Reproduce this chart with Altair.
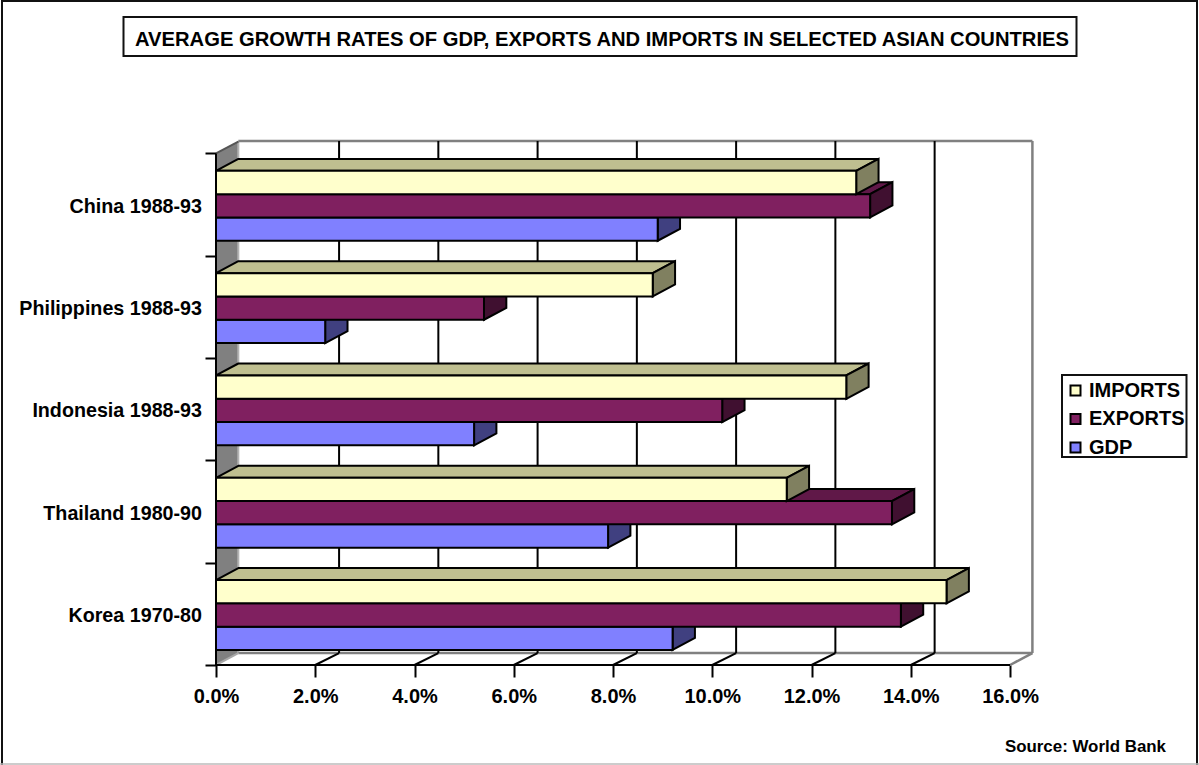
import altair as alt
import pandas as pd

# Growth rates in percent, one list per series, ordered bottom category first
categories = ["Korea 1970-80", "Thailand 1980-90", "Indonesia 1988-93", "Philippines 1988-93", "China 1988-93"]
gdp = [9.2, 7.9, 5.2, 2.2, 8.9]
exports = [13.8, 13.62, 10.2, 5.4, 13.18]
imports = [14.72, 11.5, 12.7, 8.8, 12.9]
x_ticks = [0, 2, 4, 6, 8, 10, 12, 14, 16]

FONT = "Liberation Sans"
# Oblique depth of the box, in axis units
DX, DY = 0.45, 0.117
GRID_DX = 0.48
BAR, GAP = 0.2277, 0.147
XMAX, YMAX = 16.45, 5.122

series = [
    ("GDP", gdp, "#8080FF", "#6060BF", "#404080"),
    ("EXPORTS", exports, "#802060", "#601848", "#401030"),
    ("IMPORTS", imports, "#FFFFCC", "#BFBF90", "#808060"),
]
base = pd.DataFrame({"a": [0]})

xs = alt.Scale(domain=[0, XMAX], nice=False, zero=False)
ys = alt.Scale(domain=[0, YMAX], nice=False, zero=False)
x_axis = alt.Axis(
    values=x_ticks, labelExpr="format(datum.value, '.1f') + '%'", domain=False, grid=False, title=None,
    tickColor="black", tickWidth=2, tickSize=12, labelFont=FONT, labelFontSize=20, labelFontWeight="bold",
    labelColor="black", labelPadding=9, labelFlush=False, labelOverlap=False,
)
y_axis = alt.Axis(
    values=[0, 1, 2, 3, 4, 5], labels=False, domain=False, grid=False, title=None,
    tickColor="black", tickWidth=2, tickSize=11,
)


def X(field="x"):
    return alt.X(f"{field}:Q", scale=xs, axis=x_axis, stack=None)


def Y(field="y"):
    return alt.Y(f"{field}:Q", scale=ys, axis=y_axis, stack=None)


def box_line(rows, color, width):
    return alt.Chart(pd.DataFrame(rows)).mark_line(color=color, strokeWidth=width, clip=False).encode(
        x=X(), y=Y(), detail="id:N", order="o:Q"
    )


# Gridlines on the back wall
inner = x_ticks[1:-1]
grid_lines = alt.Chart(pd.DataFrame({
    "x": [t + GRID_DX for t in inner], "y": [DY] * len(inner), "y2": [YMAX] * len(inner)
})).mark_rule(color="black", strokeWidth=2).encode(x=X(), y=Y(), y2="y2:Q")

# Side wall, back wall edges and floor
wall = alt.Chart(pd.DataFrame({"x": [0, DX], "y": [0, DY], "y2": [5, 5 + DY]})).mark_area(
    orient="vertical", color="#808080", clip=False
).encode(x=X(), y=Y(), y2="y2:Q")
wall_edge = alt.Chart(pd.DataFrame({"x": [DX], "y": [DY], "y2": [YMAX]})).mark_rule(color="#B4B4B4", strokeWidth=2).encode(
    x=X(), y=Y(), y2="y2:Q"
)
edges = alt.Chart(pd.DataFrame({
    "x": [DX, DX, XMAX], "x2": [XMAX, XMAX, XMAX], "y": [YMAX, DY, DY], "y2": [YMAX, DY, YMAX]
})).mark_rule(color="#808080", strokeWidth=2.5).encode(x=X(), x2="x2:Q", y=Y(), y2="y2:Q")

floor_rows = []
for t in inner:
    floor_rows += [{"id": t, "o": 0, "x": t, "y": 0}, {"id": t, "o": 1, "x": t + GRID_DX, "y": DY}]
floor_ticks = box_line(floor_rows, "black", 2)
corner_right = box_line([{"id": 0, "o": 0, "x": 16, "y": 0}, {"id": 0, "o": 1, "x": 16 + DX, "y": DY}], "#808080", 2.5)
corner_left = box_line([{"id": 0, "o": 0, "x": 0, "y": 0}, {"id": 0, "o": 1, "x": DX, "y": DY}], "#A8A8A8", 2)
corner_top = box_line([{"id": 0, "o": 0, "x": 0, "y": 5}, {"id": 0, "o": 1, "x": DX, "y": 5 + DY}], "#555555", 2)

# Every bar is a front face plus an oblique top and side, painted from the lowest series up
bar_layers = []
for k, (name, values, front, top, side) in enumerate(series):
    top_rows, side_rows, front_rows = [], [], []
    for i, v in enumerate(values):
        y0 = i + GAP + k * BAR
        y1 = y0 + BAR
        top_rows += [{"id": i, "y": y1, "x": 0, "x2": v}, {"id": i, "y": y1 + DY, "x": DX, "x2": v + DX}]
        side_rows += [{"id": i, "x": v, "y": y0, "y2": y1}, {"id": i, "x": v + DX, "y": y0 + DY, "y2": y1 + DY}]
        front_rows.append({"series": name, "x": 0, "x2": v, "y": y0, "y2": y1})
    bar_layers.append(alt.Chart(pd.DataFrame(top_rows)).mark_area(
        orient="horizontal", fill=top, stroke="black", strokeWidth=2
    ).encode(x=X(), x2="x2:Q", y=Y(), detail="id:N"))
    bar_layers.append(alt.Chart(pd.DataFrame(side_rows)).mark_area(
        orient="vertical", fill=side, stroke="black", strokeWidth=2
    ).encode(x=X(), y=Y(), y2="y2:Q", detail="id:N"))
    bar_layers.append(alt.Chart(pd.DataFrame(front_rows)).mark_rect(stroke="black", strokeWidth=2).encode(
        x=X(), x2="x2:Q", y=Y(), y2="y2:Q",
        color=alt.Color("series:N", scale=alt.Scale(
            domain=["IMPORTS", "EXPORTS", "GDP"], range=["#FFFFCC", "#802060", "#8080FF"]
        ), sort=["IMPORTS", "EXPORTS", "GDP"], legend=alt.Legend(
            title=None, orient="none", legendX=849.5, legendY=239.5, padding=0, rowPadding=8.5,
            symbolType="square", symbolSize=100, symbolStrokeColor="black", symbolStrokeWidth=2,
            labelFont=FONT, labelFontSize=20, labelFontWeight="bold", labelColor="black",
            labelOffset=3.5, clipHeight=20
        )),
    ))

# Axis lines in front of the bars
y_line = alt.Chart(pd.DataFrame({"x": [0], "y": [0], "y2": [5]})).mark_rule(color="black", strokeWidth=2).encode(
    x=X(), y=Y(), y2="y2:Q"
)
x_line = alt.Chart(pd.DataFrame({"x": [0], "x2": [16], "y": [0]})).mark_rule(color="black", strokeWidth=2).encode(
    x=X(), x2="x2:Q", y=Y()
)

category_labels = alt.Chart(pd.DataFrame({"label": categories, "y": [i + 0.5 for i in range(5)]})).mark_text(
    align="right", baseline="middle", font=FONT, fontSize=19.7, fontWeight="bold", color="black", dy=2
).encode(x=alt.value(-14), y=Y(), text="label:N")

heading = alt.Chart(base).mark_text(
    text="AVERAGE GROWTH RATES OF GDP, EXPORTS AND IMPORTS IN SELECTED ASIAN COUNTRIES",
    align="center", baseline="alphabetic", font=FONT, fontSize=20.2, fontWeight="bold", color="black"
).encode(x=alt.value(386), y=alt.value(-95))

source = alt.Chart(base).mark_text(
    text="Source: World Bank", align="right", baseline="alphabetic", font=FONT, fontSize=16.9, fontWeight="bold", color="black"
).encode(x=alt.value(950), y=alt.value(611))

# Page frame and the boxes round the heading and the legend
def outline(x0, x1, y0, y1):
    return alt.Chart(base).mark_rect(fill=None, stroke="#111111", strokeWidth=2).encode(
        x=alt.value(x0), x2=alt.value(x1), y=alt.value(y0), y2=alt.value(y1)
    )


frame = outline(-214, 981, -140, 640)
page_foot = alt.Chart(base).mark_rule(color="#BBBBBB", strokeWidth=1.5).encode(
    x=alt.value(-216), x2=alt.value(983), y=alt.value(623)
)
title_box = outline(-92.5, 860.5, -124, -85)
legend_box = outline(846, 970.5, 234, 316)

chart = alt.layer(
    frame, page_foot, title_box, legend_box, wall, wall_edge, edges, grid_lines, floor_ticks,
    corner_right, corner_left, corner_top, *bar_layers, y_line, x_line, category_labels, heading, source,
).resolve_scale(color="shared").properties(
    width=816.4,
    height=524,
    padding={"left": 216, "top": 141, "right": 166.6, "bottom": 100},
    autosize=alt.AutoSizeParams(type="none"),
    background="white",
).configure_view(stroke=None)

chart.save("out.html", embed_options={"renderer": "svg", "actions": False})
